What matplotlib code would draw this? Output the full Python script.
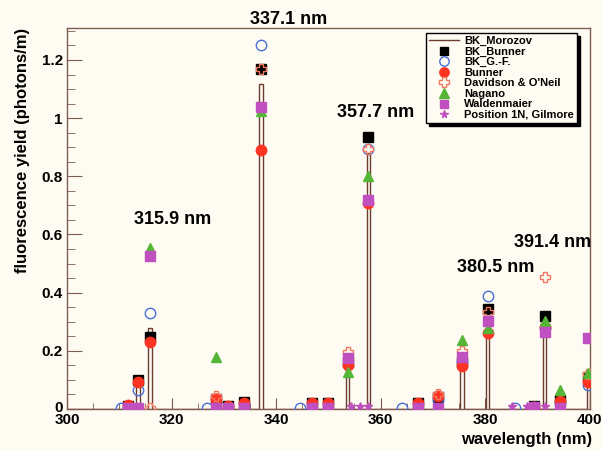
import numpy as np
import matplotlib.pyplot as plt
from matplotlib.transforms import ScaledTranslation

plt.rcParams['font.family'] = 'Liberation Sans'
plt.rcParams['font.weight'] = 'bold'

bg = '#fefcf2'
frame = '#7f5a50'

# BK_Morozov (drawn as narrow histogram bins)
morozov_nm = [313.6, 315.9, 328.5, 333.9, 337.1, 353.7, 357.7, 371.1, 375.6, 380.5, 391.4, 394.3, 399.8]
morozov_y = [0.095, 0.28, 0.03, 0.02, 1.117, 0.16, 0.88, 0.03, 0.165, 0.28, 0.27, 0.03, 0.09]

bkb_nm = [311.7, 313.6, 315.9, 328.5, 330.9, 333.9, 337.1, 346.9, 350.0, 353.7, 357.7,
          367.2, 371.1, 375.6, 380.5, 389.4, 391.4, 394.3, 399.8]
bkb_y = [0.012, 0.10, 0.247, 0.035, 0.012, 0.025, 1.17, 0.02, 0.02, 0.16, 0.935,
         0.02, 0.04, 0.16, 0.344, 0.01, 0.32, 0.03, 0.11]

gf_nm = [310.4, 313.6, 315.9, 326.8, 337.1, 344.6, 357.7, 364.2, 371.1, 375.6, 380.5,
         385.8, 391.4, 394.3, 399.8]
gf_y = [0.004, 0.065, 0.33, 0.003, 1.25, 0.002, 0.895, 0.002, 0.035, 0.163, 0.388,
        0.003, 0.28, 0.025, 0.083]

bun_nm = bkb_nm
bun_y = [0.015, 0.093, 0.23, 0.035, 0.01, 0.02, 0.89, 0.02, 0.02, 0.15, 0.708,
         0.02, 0.045, 0.148, 0.26, 0.008, 0.283, 0.028, 0.093]

dav_nm = [315.9, 328.5, 337.1, 353.7, 357.7, 371.1, 375.6, 380.5, 391.4, 399.8]
dav_y = [0.003, 0.045, 1.17, 0.195, 0.895, 0.05, 0.2, 0.335, 0.455, 0.12]

nag_nm = [315.9, 328.5, 337.1, 353.7, 357.7, 375.6, 380.5, 391.4, 394.3, 399.8]
nag_y = [0.553, 0.18, 1.025, 0.127, 0.80, 0.237, 0.278, 0.303, 0.065, 0.125]

wal_nm = bkb_nm
wal_y = [0.004, 0.004, 0.526, 0.004, 0.004, 0.004, 1.04, 0.004, 0.004, 0.175, 0.72,
         0.004, 0.004, 0.18, 0.303, 0.006, 0.265, 0.004, 0.245]

gil_nm = [354.4, 356.1, 357.7, 385.1, 388.0, 391.4]
gil_y = [0.01, 0.01, 0.01, 0.01, 0.01, 0.01]

peak_labels = ['337.1 nm', '357.7 nm', '315.9 nm', '391.4 nm', '380.5 nm']
peak_x = [342.5, 359.1, 320.3, 393.0, 382.1]
peak_y = [1.338, 1.018, 0.653, 0.574, 0.488]

fig = plt.figure(figsize=(6.02, 4.5), dpi=100, facecolor=bg)
ax = fig.add_axes([67/602, 41/450, 522.5/602, 381/450], facecolor=bg)

# histogram edges from line centres
w = 0.35
edges = [300.0]
vals = []
for c, h in zip(morozov_nm, morozov_y):
    edges += [c - w, c + w]
    vals += [0, h]
vals.append(0)
edges.append(max(400.5, edges[-1] + 0.1))
ax.stairs(vals, edges, color='#6e3b30', lw=1.0, label='BK_Morozov', zorder=2)

ax.plot(bkb_nm, bkb_y, 's', color='black', ms=6.5, label='BK_Bunner', zorder=3)
ax.plot(gf_nm, gf_y, 'o', mfc='none', mec='#4a6fd8', mew=1.0, ms=7.5, label='BK_G.-F.', zorder=3)
ax.plot(bun_nm, bun_y, 'o', color='#ff3322', ms=7.5, label='Bunner', zorder=3)
ax.plot(dav_nm, dav_y, 'P', mfc='none', mec='#f07860', mew=1.0, ms=7.5, label="Davidson & O'Neil", zorder=3)
ax.plot(nag_nm, nag_y, '^', color='#55b536', ms=7.5, label='Nagano', zorder=3)
ax.plot(wal_nm, wal_y, 's', color='#c04fc0', ms=7, label='Waldenmaier', zorder=3)
ax.plot(gil_nm, gil_y, '*', color='#c04fc0', ms=6, label='Position 1N, Gilmore', zorder=3)

for s, x, y in zip(peak_labels, peak_x, peak_y):
    ax.text(x, y, s, ha='center', va='center', fontsize=13, fontweight='bold', clip_on=False)

ax.set_xlim(300, 400)
ax.set_ylim(0, 1.31)
ax.set_xticks(np.arange(300, 401, 20))
ax.set_xticks(np.arange(300, 401, 5), minor=True)
ax.set_yticks(np.arange(0, 1.21, 0.2))
ax.set_yticks(np.arange(0, 1.31, 0.05), minor=True)
ax.set_yticklabels(['0', '0.2', '0.4', '0.6', '0.8', '1', '1.2'])
ax.tick_params(which='both', direction='in', top=False, right=False, color=frame, labelsize=11)
ax.tick_params(axis='x', which='major', length=8, pad=3)
ax.tick_params(axis='x', which='minor', length=4)
ax.tick_params(axis='y', which='major', length=11, pad=3)
ax.tick_params(axis='y', which='minor', length=5.5)
for sp in ax.spines.values():
    sp.set_color(frame)
    sp.set_linewidth(1.0)

# lift the "0" a little so it does not sit on top of "300"
zero = ax.get_yticklabels()[0]
zero.set_transform(zero.get_transform() + ScaledTranslation(0, 3/100, fig.dpi_scale_trans))

ax.set_xlabel('wavelength (nm)', loc='right', fontsize=12, fontweight='bold')
ax.xaxis.set_label_coords(1.005, -0.06)
ax.set_ylabel('fluorescence yield (photons/m)', loc='top', fontsize=12, fontweight='bold')
ax.yaxis.set_label_coords(-0.071, 1.0)

leg = ax.legend(loc='upper left', bbox_to_anchor=(426/602, 1 - 33/450), bbox_transform=fig.transFigure,
                fontsize=8, frameon=True, fancybox=False, shadow={'color': 'black', 'alpha': 1},
                borderpad=0.25, labelspacing=0.05, handlelength=2.7, handletextpad=0.5,
                borderaxespad=0, markerscale=0.9)
leg.get_frame().set_edgecolor('black')
leg.get_frame().set_facecolor(bg)
leg.get_frame().set_linewidth(1.0)

fig.savefig('out.png', dpi=100, facecolor=bg)
